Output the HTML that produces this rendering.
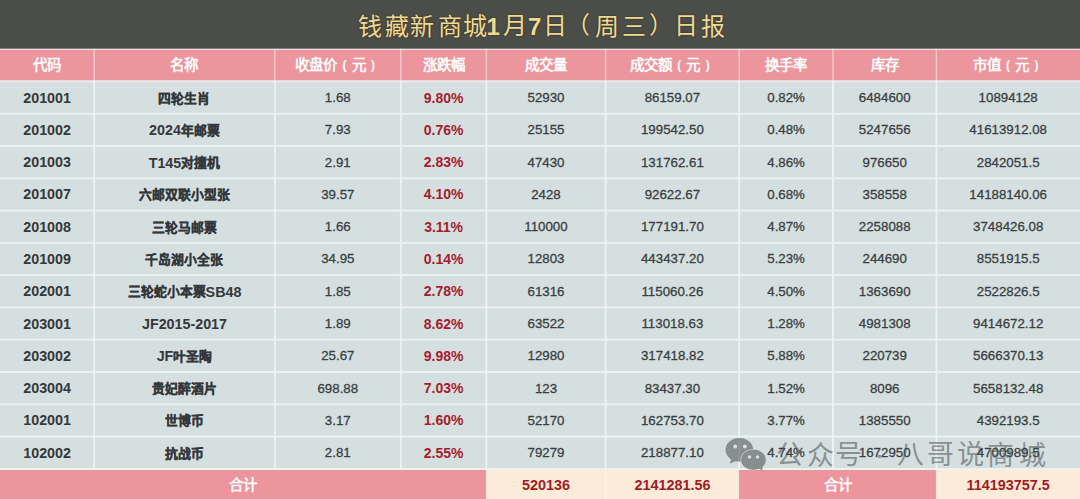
<!DOCTYPE html>
<html lang="zh-CN"><head><meta charset="utf-8"><title>钱藏新商城日报</title>
<style>
*{margin:0;padding:0;box-sizing:border-box}
html,body{width:1080px;height:499px;overflow:hidden;background:#d5dfe0}
body{position:relative;-webkit-font-smoothing:antialiased;font-family:"Liberation Sans",sans-serif;color:#373c3e}
.abs{position:absolute}
svg.bg{position:absolute;left:0;top:0}
.tg{position:absolute;line-height:60px;white-space:nowrap;color:#f1d98f;text-shadow:0 0 2px #2a2a20}
.c{position:absolute;display:flex;align-items:center;justify-content:center;white-space:nowrap}
.h{color:#fff;font-weight:bold;font-size:14.5px}
.h>span{position:relative;top:-1.5px}
.b{font-weight:bold;font-size:14.3px;color:#34383a}
.b .k{font-size:12.8px;-webkit-text-stroke:0.3px #34383a;position:relative;top:-0.6px}
.n{font-size:13.3px;color:#3a3f41;-webkit-text-stroke:0.3px #3a3f41}
.r{font-weight:bold;font-size:14px;color:#a51d2d}
.t{font-size:14.4px;color:#a11b24}
.p{display:inline-block;width:1em;text-align:center;font-family:"Liberation Sans",sans-serif;font-weight:normal}
.p i{font-style:normal;font-size:12px;font-weight:bold;position:relative;top:-1px}
.wm{position:absolute;line-height:60px;color:rgba(70,76,78,.55);white-space:nowrap}
</style></head><body>

<svg class="bg" width="1080" height="499" viewBox="0 0 1080 499">
<rect x="0" y="0" width="1080" height="48.8" fill="#4b4d49"/>
<rect x="0" y="48.8" width="1080" height="1.2000000000000028" fill="#f1dcdf"/>
<rect x="0" y="50.0" width="1080" height="30.400000000000006" fill="#ec959c"/>
<rect x="0" y="80.4" width="1080" height="2.0" fill="#f3e6ea"/>
<rect x="0" y="82.4" width="1080" height="387.6" fill="#d5dfe0"/>
<rect x="0" y="470.0" width="486.4" height="29.0" fill="#ec959c"/>
<rect x="486.4" y="470.0" width="252.80000000000007" height="29.0" fill="#fdebda"/>
<rect x="739.2" y="470.0" width="197.19999999999993" height="29.0" fill="#ec959c"/>
<rect x="936.4" y="470.0" width="143.60000000000002" height="29.0" fill="#fdebda"/>
<g fill="#fff" opacity="0.62">
<rect x="0" y="112.85" width="1080" height="1.8"/>
<rect x="0" y="145.12" width="1080" height="1.8"/>
<rect x="0" y="177.40" width="1080" height="1.8"/>
<rect x="0" y="209.67" width="1080" height="1.8"/>
<rect x="0" y="241.95" width="1080" height="1.8"/>
<rect x="0" y="274.23" width="1080" height="1.8"/>
<rect x="0" y="306.50" width="1080" height="1.8"/>
<rect x="0" y="338.77" width="1080" height="1.8"/>
<rect x="0" y="371.05" width="1080" height="1.8"/>
<rect x="0" y="403.33" width="1080" height="1.8"/>
<rect x="0" y="435.60" width="1080" height="1.8"/>
<rect x="0" y="468.20" width="1080" height="1.8"/>
<rect x="93.30" y="82.4" width="1.8" height="385.80"/>
<rect x="273.90" y="82.4" width="1.8" height="385.80"/>
<rect x="399.90" y="82.4" width="1.8" height="385.80"/>
<rect x="485.50" y="82.4" width="1.8" height="385.80"/>
<rect x="604.70" y="82.4" width="1.8" height="385.80"/>
<rect x="738.30" y="82.4" width="1.8" height="385.80"/>
<rect x="832.10" y="82.4" width="1.8" height="385.80"/>
<rect x="935.50" y="82.4" width="1.8" height="385.80"/>
</g>
<g fill="#fff" opacity="0.5">
<rect x="93.50" y="48.8" width="1.4" height="33.60"/>
<rect x="274.10" y="48.8" width="1.4" height="33.60"/>
<rect x="400.10" y="48.8" width="1.4" height="33.60"/>
<rect x="485.70" y="48.8" width="1.4" height="33.60"/>
<rect x="604.90" y="48.8" width="1.4" height="33.60"/>
<rect x="738.50" y="48.8" width="1.4" height="33.60"/>
<rect x="832.30" y="48.8" width="1.4" height="33.60"/>
<rect x="935.70" y="48.8" width="1.4" height="33.60"/>
</g>
<g fill="#fff" opacity="0.35">
<rect x="485.80" y="470.0" width="1.2" height="29.0"/>
<rect x="605.00" y="470.0" width="1.2" height="29.0"/>
<rect x="935.80" y="470.0" width="1.2" height="29.0"/>
</g>
</svg>
<span class="tg" style="left:358.2px;top:-3.2px;font-family:'Liberation Serif',serif;font-size:24px">钱</span>
<span class="tg" style="left:385.0px;top:-2.7px;font-family:'Liberation Serif',serif;font-size:24px">藏</span>
<span class="tg" style="left:410.1px;top:-2.7px;font-family:'Liberation Serif',serif;font-size:24px">新</span>
<span class="tg" style="left:437.7px;top:-2.7px;font-family:'Liberation Serif',serif;font-size:24px">商</span>
<span class="tg" style="left:463.2px;top:-2.7px;font-family:'Liberation Serif',serif;font-size:24px">城</span>
<span class="tg" style="left:486.4px;top:-3.2px;font-family:'Liberation Sans',sans-serif;font-size:24px;font-weight:bold">1</span>
<span class="tg" style="left:502.5px;top:-3.7px;font-family:'Liberation Serif',serif;font-size:24px">月</span>
<span class="tg" style="left:528.1px;top:-3.2px;font-family:'Liberation Sans',sans-serif;font-size:24px;font-weight:bold">7</span>
<span class="tg" style="left:542.5px;top:-3.7px;font-family:'Liberation Serif',serif;font-size:24px">日</span>
<span class="tg" style="left:565.9px;top:-4.7px;font-family:'Liberation Serif',serif;font-size:24px">（</span>
<span class="tg" style="left:595.1px;top:-3.2px;font-family:'Liberation Serif',serif;font-size:24px">周</span>
<span class="tg" style="left:621.8px;top:-2.7px;font-family:'Liberation Serif',serif;font-size:24px">三</span>
<span class="tg" style="left:648.8px;top:-4.7px;font-family:'Liberation Serif',serif;font-size:24px">）</span>
<span class="tg" style="left:674.0px;top:-3.7px;font-family:'Liberation Serif',serif;font-size:24px">日</span>
<span class="tg" style="left:700.8px;top:-3.2px;font-family:'Liberation Serif',serif;font-size:24px">报</span>
<div class="c h" style="left:0.00px;top:50.00px;width:94.20px;height:30.40px;"><span><span class="k">代码</span></span></div>
<div class="c h" style="left:94.20px;top:50.00px;width:180.60px;height:30.40px;"><span><span class="k">名称</span></span></div>
<div class="c h" style="left:274.80px;top:50.00px;width:126.00px;height:30.40px;"><span><span class="k">收盘价</span><span class="p"><i>(</i></span><span class="k">元</span><span class="p"><i>)</i></span></span></div>
<div class="c h" style="left:400.80px;top:50.00px;width:85.60px;height:30.40px;"><span><span class="k">涨跌幅</span></span></div>
<div class="c h" style="left:486.40px;top:50.00px;width:119.20px;height:30.40px;"><span><span class="k">成交量</span></span></div>
<div class="c h" style="left:605.60px;top:50.00px;width:133.60px;height:30.40px;"><span><span class="k">成交额</span><span class="p"><i>(</i></span><span class="k">元</span><span class="p"><i>)</i></span></span></div>
<div class="c h" style="left:739.20px;top:50.00px;width:93.80px;height:30.40px;"><span><span class="k">换手率</span></span></div>
<div class="c h" style="left:833.00px;top:50.00px;width:103.40px;height:30.40px;"><span><span class="k">库存</span></span></div>
<div class="c h" style="left:936.40px;top:50.00px;width:143.60px;height:30.40px;"><span><span class="k">市值</span><span class="p"><i>(</i></span><span class="k">元</span><span class="p"><i>)</i></span></span></div>
<div class="c b" style="left:0.00px;top:81.50px;width:94.20px;height:32.25px;"><span>201001</span></div>
<div class="c b" style="left:94.20px;top:81.50px;width:180.60px;height:32.25px;"><span><span class="k">四轮生肖</span></span></div>
<div class="c n" style="left:274.80px;top:81.50px;width:126.00px;height:32.25px;"><span>1.68</span></div>
<div class="c r" style="left:400.80px;top:81.50px;width:85.60px;height:32.25px;"><span>9.80%</span></div>
<div class="c n" style="left:486.40px;top:81.50px;width:119.20px;height:32.25px;"><span>52930</span></div>
<div class="c n" style="left:605.60px;top:81.50px;width:133.60px;height:32.25px;"><span>86159.07</span></div>
<div class="c n" style="left:739.20px;top:81.50px;width:93.80px;height:32.25px;"><span>0.82%</span></div>
<div class="c n" style="left:833.00px;top:81.50px;width:103.40px;height:32.25px;"><span>6484600</span></div>
<div class="c n" style="left:936.40px;top:81.50px;width:143.60px;height:32.25px;"><span>10894128</span></div>
<div class="c b" style="left:0.00px;top:113.75px;width:94.20px;height:32.27px;"><span>201002</span></div>
<div class="c b" style="left:94.20px;top:113.75px;width:180.60px;height:32.27px;"><span>2024<span class="k">年邮票</span></span></div>
<div class="c n" style="left:274.80px;top:113.75px;width:126.00px;height:32.27px;"><span>7.93</span></div>
<div class="c r" style="left:400.80px;top:113.75px;width:85.60px;height:32.27px;"><span>0.76%</span></div>
<div class="c n" style="left:486.40px;top:113.75px;width:119.20px;height:32.27px;"><span>25155</span></div>
<div class="c n" style="left:605.60px;top:113.75px;width:133.60px;height:32.27px;"><span>199542.50</span></div>
<div class="c n" style="left:739.20px;top:113.75px;width:93.80px;height:32.27px;"><span>0.48%</span></div>
<div class="c n" style="left:833.00px;top:113.75px;width:103.40px;height:32.27px;"><span>5247656</span></div>
<div class="c n" style="left:936.40px;top:113.75px;width:143.60px;height:32.27px;"><span>41613912.08</span></div>
<div class="c b" style="left:0.00px;top:146.02px;width:94.20px;height:32.28px;"><span>201003</span></div>
<div class="c b" style="left:94.20px;top:146.02px;width:180.60px;height:32.28px;"><span>T145<span class="k">对撞机</span></span></div>
<div class="c n" style="left:274.80px;top:146.02px;width:126.00px;height:32.28px;"><span>2.91</span></div>
<div class="c r" style="left:400.80px;top:146.02px;width:85.60px;height:32.28px;"><span>2.83%</span></div>
<div class="c n" style="left:486.40px;top:146.02px;width:119.20px;height:32.28px;"><span>47430</span></div>
<div class="c n" style="left:605.60px;top:146.02px;width:133.60px;height:32.28px;"><span>131762.61</span></div>
<div class="c n" style="left:739.20px;top:146.02px;width:93.80px;height:32.28px;"><span>4.86%</span></div>
<div class="c n" style="left:833.00px;top:146.02px;width:103.40px;height:32.28px;"><span>976650</span></div>
<div class="c n" style="left:936.40px;top:146.02px;width:143.60px;height:32.28px;"><span>2842051.5</span></div>
<div class="c b" style="left:0.00px;top:178.30px;width:94.20px;height:32.28px;"><span>201007</span></div>
<div class="c b" style="left:94.20px;top:178.30px;width:180.60px;height:32.28px;"><span><span class="k">六邮双联小型张</span></span></div>
<div class="c n" style="left:274.80px;top:178.30px;width:126.00px;height:32.28px;"><span>39.57</span></div>
<div class="c r" style="left:400.80px;top:178.30px;width:85.60px;height:32.28px;"><span>4.10%</span></div>
<div class="c n" style="left:486.40px;top:178.30px;width:119.20px;height:32.28px;"><span>2428</span></div>
<div class="c n" style="left:605.60px;top:178.30px;width:133.60px;height:32.28px;"><span>92622.67</span></div>
<div class="c n" style="left:739.20px;top:178.30px;width:93.80px;height:32.28px;"><span>0.68%</span></div>
<div class="c n" style="left:833.00px;top:178.30px;width:103.40px;height:32.28px;"><span>358558</span></div>
<div class="c n" style="left:936.40px;top:178.30px;width:143.60px;height:32.28px;"><span>14188140.06</span></div>
<div class="c b" style="left:0.00px;top:210.57px;width:94.20px;height:32.28px;"><span>201008</span></div>
<div class="c b" style="left:94.20px;top:210.57px;width:180.60px;height:32.28px;"><span><span class="k">三轮马邮票</span></span></div>
<div class="c n" style="left:274.80px;top:210.57px;width:126.00px;height:32.28px;"><span>1.66</span></div>
<div class="c r" style="left:400.80px;top:210.57px;width:85.60px;height:32.28px;"><span>3.11%</span></div>
<div class="c n" style="left:486.40px;top:210.57px;width:119.20px;height:32.28px;"><span>110000</span></div>
<div class="c n" style="left:605.60px;top:210.57px;width:133.60px;height:32.28px;"><span>177191.70</span></div>
<div class="c n" style="left:739.20px;top:210.57px;width:93.80px;height:32.28px;"><span>4.87%</span></div>
<div class="c n" style="left:833.00px;top:210.57px;width:103.40px;height:32.28px;"><span>2258088</span></div>
<div class="c n" style="left:936.40px;top:210.57px;width:143.60px;height:32.28px;"><span>3748426.08</span></div>
<div class="c b" style="left:0.00px;top:242.85px;width:94.20px;height:32.28px;"><span>201009</span></div>
<div class="c b" style="left:94.20px;top:242.85px;width:180.60px;height:32.28px;"><span><span class="k">千岛湖小全张</span></span></div>
<div class="c n" style="left:274.80px;top:242.85px;width:126.00px;height:32.28px;"><span>34.95</span></div>
<div class="c r" style="left:400.80px;top:242.85px;width:85.60px;height:32.28px;"><span>0.14%</span></div>
<div class="c n" style="left:486.40px;top:242.85px;width:119.20px;height:32.28px;"><span>12803</span></div>
<div class="c n" style="left:605.60px;top:242.85px;width:133.60px;height:32.28px;"><span>443437.20</span></div>
<div class="c n" style="left:739.20px;top:242.85px;width:93.80px;height:32.28px;"><span>5.23%</span></div>
<div class="c n" style="left:833.00px;top:242.85px;width:103.40px;height:32.28px;"><span>244690</span></div>
<div class="c n" style="left:936.40px;top:242.85px;width:143.60px;height:32.28px;"><span>8551915.5</span></div>
<div class="c b" style="left:0.00px;top:275.12px;width:94.20px;height:32.27px;"><span>202001</span></div>
<div class="c b" style="left:94.20px;top:275.12px;width:180.60px;height:32.27px;"><span><span class="k">三轮蛇小本票</span>SB48</span></div>
<div class="c n" style="left:274.80px;top:275.12px;width:126.00px;height:32.27px;"><span>1.85</span></div>
<div class="c r" style="left:400.80px;top:275.12px;width:85.60px;height:32.27px;"><span>2.78%</span></div>
<div class="c n" style="left:486.40px;top:275.12px;width:119.20px;height:32.27px;"><span>61316</span></div>
<div class="c n" style="left:605.60px;top:275.12px;width:133.60px;height:32.27px;"><span>115060.26</span></div>
<div class="c n" style="left:739.20px;top:275.12px;width:93.80px;height:32.27px;"><span>4.50%</span></div>
<div class="c n" style="left:833.00px;top:275.12px;width:103.40px;height:32.27px;"><span>1363690</span></div>
<div class="c n" style="left:936.40px;top:275.12px;width:143.60px;height:32.27px;"><span>2522826.5</span></div>
<div class="c b" style="left:0.00px;top:307.40px;width:94.20px;height:32.27px;"><span>203001</span></div>
<div class="c b" style="left:94.20px;top:307.40px;width:180.60px;height:32.27px;"><span>JF2015-2017</span></div>
<div class="c n" style="left:274.80px;top:307.40px;width:126.00px;height:32.27px;"><span>1.89</span></div>
<div class="c r" style="left:400.80px;top:307.40px;width:85.60px;height:32.27px;"><span>8.62%</span></div>
<div class="c n" style="left:486.40px;top:307.40px;width:119.20px;height:32.27px;"><span>63522</span></div>
<div class="c n" style="left:605.60px;top:307.40px;width:133.60px;height:32.27px;"><span>113018.63</span></div>
<div class="c n" style="left:739.20px;top:307.40px;width:93.80px;height:32.27px;"><span>1.28%</span></div>
<div class="c n" style="left:833.00px;top:307.40px;width:103.40px;height:32.27px;"><span>4981308</span></div>
<div class="c n" style="left:936.40px;top:307.40px;width:143.60px;height:32.27px;"><span>9414672.12</span></div>
<div class="c b" style="left:0.00px;top:339.67px;width:94.20px;height:32.27px;"><span>203002</span></div>
<div class="c b" style="left:94.20px;top:339.67px;width:180.60px;height:32.27px;"><span>JF<span class="k">叶圣陶</span></span></div>
<div class="c n" style="left:274.80px;top:339.67px;width:126.00px;height:32.27px;"><span>25.67</span></div>
<div class="c r" style="left:400.80px;top:339.67px;width:85.60px;height:32.27px;"><span>9.98%</span></div>
<div class="c n" style="left:486.40px;top:339.67px;width:119.20px;height:32.27px;"><span>12980</span></div>
<div class="c n" style="left:605.60px;top:339.67px;width:133.60px;height:32.27px;"><span>317418.82</span></div>
<div class="c n" style="left:739.20px;top:339.67px;width:93.80px;height:32.27px;"><span>5.88%</span></div>
<div class="c n" style="left:833.00px;top:339.67px;width:103.40px;height:32.27px;"><span>220739</span></div>
<div class="c n" style="left:936.40px;top:339.67px;width:143.60px;height:32.27px;"><span>5666370.13</span></div>
<div class="c b" style="left:0.00px;top:371.95px;width:94.20px;height:32.28px;"><span>203004</span></div>
<div class="c b" style="left:94.20px;top:371.95px;width:180.60px;height:32.28px;"><span><span class="k">贵妃醉酒片</span></span></div>
<div class="c n" style="left:274.80px;top:371.95px;width:126.00px;height:32.28px;"><span>698.88</span></div>
<div class="c r" style="left:400.80px;top:371.95px;width:85.60px;height:32.28px;"><span>7.03%</span></div>
<div class="c n" style="left:486.40px;top:371.95px;width:119.20px;height:32.28px;"><span>123</span></div>
<div class="c n" style="left:605.60px;top:371.95px;width:133.60px;height:32.28px;"><span>83437.30</span></div>
<div class="c n" style="left:739.20px;top:371.95px;width:93.80px;height:32.28px;"><span>1.52%</span></div>
<div class="c n" style="left:833.00px;top:371.95px;width:103.40px;height:32.28px;"><span>8096</span></div>
<div class="c n" style="left:936.40px;top:371.95px;width:143.60px;height:32.28px;"><span>5658132.48</span></div>
<div class="c b" style="left:0.00px;top:404.23px;width:94.20px;height:32.27px;"><span>102001</span></div>
<div class="c b" style="left:94.20px;top:404.23px;width:180.60px;height:32.27px;"><span><span class="k">世博币</span></span></div>
<div class="c n" style="left:274.80px;top:404.23px;width:126.00px;height:32.27px;"><span>3.17</span></div>
<div class="c r" style="left:400.80px;top:404.23px;width:85.60px;height:32.27px;"><span>1.60%</span></div>
<div class="c n" style="left:486.40px;top:404.23px;width:119.20px;height:32.27px;"><span>52170</span></div>
<div class="c n" style="left:605.60px;top:404.23px;width:133.60px;height:32.27px;"><span>162753.70</span></div>
<div class="c n" style="left:739.20px;top:404.23px;width:93.80px;height:32.27px;"><span>3.77%</span></div>
<div class="c n" style="left:833.00px;top:404.23px;width:103.40px;height:32.27px;"><span>1385550</span></div>
<div class="c n" style="left:936.40px;top:404.23px;width:143.60px;height:32.27px;"><span>4392193.5</span></div>
<div class="c b" style="left:0.00px;top:436.50px;width:94.20px;height:32.27px;"><span>102002</span></div>
<div class="c b" style="left:94.20px;top:436.50px;width:180.60px;height:32.27px;"><span><span class="k">抗战币</span></span></div>
<div class="c n" style="left:274.80px;top:436.50px;width:126.00px;height:32.27px;"><span>2.81</span></div>
<div class="c r" style="left:400.80px;top:436.50px;width:85.60px;height:32.27px;"><span>2.55%</span></div>
<div class="c n" style="left:486.40px;top:436.50px;width:119.20px;height:32.27px;"><span>79279</span></div>
<div class="c n" style="left:605.60px;top:436.50px;width:133.60px;height:32.27px;"><span>218877.10</span></div>
<div class="c n" style="left:739.20px;top:436.50px;width:93.80px;height:32.27px;"><span>4.74%</span></div>
<div class="c n" style="left:833.00px;top:436.50px;width:103.40px;height:32.27px;"><span>1672950</span></div>
<div class="c n" style="left:936.40px;top:436.50px;width:143.60px;height:32.27px;"><span>4700989.5</span></div>
<div class="c h" style="left:0.00px;top:470.00px;width:486.40px;height:29.00px;"><span><span class="k">合计</span></span></div>
<div class="c r t" style="left:486.40px;top:470.00px;width:119.20px;height:29.00px;"><span>520136</span></div>
<div class="c r t" style="left:605.60px;top:470.00px;width:133.60px;height:29.00px;"><span>2141281.56</span></div>
<div class="c h" style="left:739.20px;top:470.00px;width:197.20px;height:29.00px;"><span><span class="k">合计</span></span></div>
<div class="c r t" style="left:936.40px;top:470.00px;width:143.60px;height:29.00px;"><span>114193757.5</span></div>
<svg class="abs" style="left:720px;top:433px" width="52" height="42" viewBox="0 0 52 42">
<g opacity=".55">
<ellipse cx="19.35" cy="16.8" rx="13.85" ry="11.8" fill="#464c4e"/>
<path d="M11.5 25 L9.8 30.8 L16.5 27.8 Z" fill="#464c4e"/>
<ellipse cx="33.45" cy="26.7" rx="12.9" ry="10.8" fill="#d5dfe0"/>
<ellipse cx="33.45" cy="26.7" rx="12.3" ry="10.2" fill="#464c4e"/>
<path d="M38 35 L42.2 37.8 L42.8 33 Z" fill="#464c4e"/>
<g fill="#e2e8e8"><circle cx="15.2" cy="13.5" r="1.9"/><circle cx="24.8" cy="13.5" r="1.9"/>
<circle cx="29.5" cy="24" r="1.7"/><circle cx="37.5" cy="24" r="1.7"/></g>
</g>
</svg>
<span class="wm" style="left:775.8px;top:425.2px;font-family:'Liberation Sans',sans-serif;font-size:27px">公</span>
<span class="wm" style="left:806.5px;top:425.7px;font-family:'Liberation Sans',sans-serif;font-size:27px">众</span>
<span class="wm" style="left:835.4px;top:424.7px;font-family:'Liberation Sans',sans-serif;font-size:27px">号</span>
<span class="wm" style="left:874.9px;top:424.5px;font-family:'Liberation Sans',sans-serif;font-size:27px">·</span>
<span class="wm" style="left:897.0px;top:425.2px;font-family:'Liberation Sans',sans-serif;font-size:27px">八</span>
<span class="wm" style="left:926.6px;top:424.7px;font-family:'Liberation Sans',sans-serif;font-size:27px">哥</span>
<span class="wm" style="left:957.0px;top:425.2px;font-family:'Liberation Sans',sans-serif;font-size:27px">说</span>
<span class="wm" style="left:986.9px;top:426.2px;font-family:'Liberation Sans',sans-serif;font-size:27px">商</span>
<span class="wm" style="left:1019.1px;top:425.7px;font-family:'Liberation Sans',sans-serif;font-size:27px">城</span>
</body></html>
